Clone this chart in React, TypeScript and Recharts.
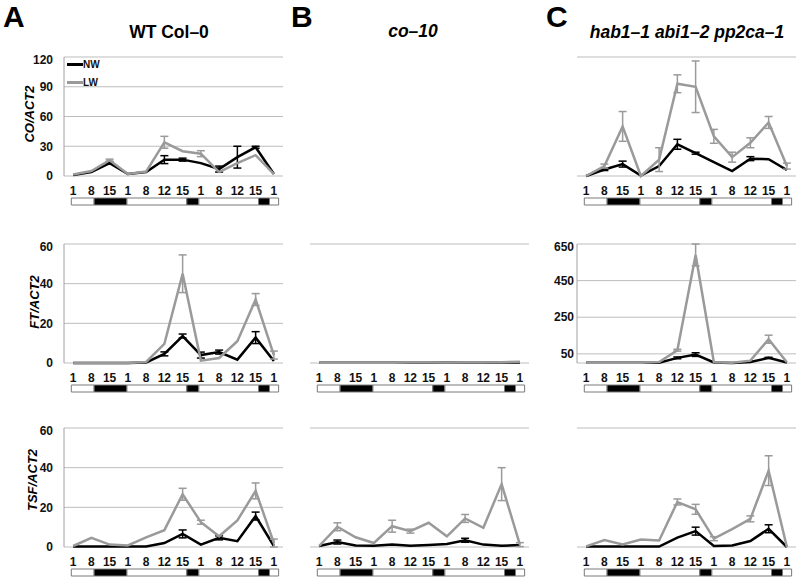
import {
  LineChart,
  Line,
  XAxis,
  YAxis,
  CartesianGrid,
  ErrorBar,
  Legend,
  BarChart,
  Bar,
} from "recharts";

const FONT = '"Liberation Sans", Arial, sans-serif';
const PW = 219;
const PH = 119;

const xLabels = ["1", "8", "15", "1", "8", "12", "15", "1", "8", "12", "15", "1"];
const idx = xLabels.map((_, i) => i);
const bounds = [-0.5, ...idx.map((i) => i + 0.5)];
const seriesOrder = ["NW", "LW"];

// light / dark bar: offset, then white/black segments (category units)
const dnSegments = [0.4, 1.25, 1.8, 3.28, 0.66, 3.27, 0.6, 0.5];
const dnFills = ["none", "#fff", "#000", "#fff", "#000", "#fff", "#000", "#fff"];

// CO/ACT2
const coWtNW = [1, 4, 13, 2, 4, 16.5, 16.5, 13, 7, 19, 29, 2];
const coWtNWErr = [0, 0, 1, 0, 0, 4, 1.5, 0, 3, 11, 1, 0];
const coWtLW = [1.5, 5, 16, 2, 4.5, 34, 25, 22.5, 4, 13, 21, 2];
const coWtLWErr = [0, 0, 1, 0, 0, 6, 0, 3, 0, 0, 0, 0];

const coPpNW = [0, 6.5, 12, 0.5, 10, 32, 23, 14, 5, 17.5, 17, 6];
const coPpNWErr = [0, 1, 3, 0, 0, 5, 1, 0, 0, 2, 0, 0];
const coPpLW = [0, 10, 50, 0, 16.5, 93, 90, 40, 19, 33.5, 54, 10];
const coPpLWErr = [0, 2, 15, 0, 12, 9, 26, 7, 5, 5, 6, 3];

// FT/ACT2
const ftWtNW = [0, 0, 0, 0, 0.3, 4.6, 13.6, 4, 5.5, 1.7, 12.8, 1];
const ftWtNWErr = [0, 0, 0, 0, 0, 1, 1, 1.5, 1, 0, 3, 0];
const ftWtLW = [0, 0, 0, 0, 0.5, 9.7, 45, 1.2, 2.5, 11, 32, 4];
const ftWtLWErr = [0, 0, 0, 0, 0, 0, 9.5, 0, 0, 0, 3, 2];

const ftCoNW = [0.1, 0.1, 0.1, 0.1, 0.1, 0.1, 0.1, 0.2, 0.1, 0.1, 0.2, 0.2];
const ftCoLW = [0.1, 0.1, 0.1, 0.1, 0.1, 0.2, 0.2, 0.3, 0.2, 0.2, 0.4, 0.6];
const zeroErr = [0, 0, 0, 0, 0, 0, 0, 0, 0, 0, 0, 0];

const ftPpNW = [1, 1, 1, 1, 2, 28, 46, 3, 0, 5, 28, 3];
const ftPpNWErr = [0, 0, 0, 0, 0, 5, 10, 0, 0, 0, 3, 0];
const ftPpLW = [2, 2, 2, 2, 5, 70, 590, 4, 2, 13, 130, 4];
const ftPpLWErr = [0, 0, 0, 0, 0, 5, 60, 0, 0, 0, 22, 0];

// TSF/ACT2
const tsfWtNW = [0.3, 0.3, 0.2, 0.2, 0.3, 2, 6.6, 1.2, 4.6, 2.9, 15.6, 0.5];
const tsfWtNWErr = [0, 0, 0, 0, 0, 0, 2, 0, 1, 0, 2, 0];
const tsfWtLW = [0.5, 4.6, 1.2, 0.8, 4.9, 8.5, 26.6, 12.5, 5.4, 13.4, 28.3, 2];
const tsfWtLWErr = [0, 0, 0, 0, 0, 0, 3, 1, 0, 0, 4, 2];

const tsfCoNW = [0.5, 2.5, 0.8, 0.6, 1.2, 0.6, 1, 1.5, 3.4, 1.2, 0.6, 1];
const tsfCoNWErr = [0, 1, 0, 0, 0, 0, 0, 0, 1, 0, 0, 0];
const tsfCoLW = [0.5, 10.2, 4.9, 2, 10.5, 8, 12.2, 5.4, 14.4, 9.7, 31.7, 1.2];
const tsfCoLWErr = [0, 2, 0, 0, 3, 1, 0, 0, 2, 0, 8.3, 1];

const tsfPpNW = [0.2, 0.2, 0.2, 0.2, 0.2, 4.7, 8, 0.5, 0.8, 3, 9.2, 0];
const tsfPpNWErr = [0, 0, 0, 0, 0, 0, 2, 0, 0, 0, 2, 0];
const tsfPpLW = [0.3, 3.5, 1.3, 3.8, 3.3, 22.7, 19, 4.2, 9, 14.2, 38.5, 0];
const tsfPpLWErr = [0, 0, 0, 0, 0, 1.5, 2.5, 1, 0, 1.5, 7.5, 0];

const coTicks = [0, 30, 60, 90, 120];
const ftTicks = [0, 20, 40, 60];
const ftPpTicks = [50, 250, 450, 650];
const tsfTicks = [0, 20, 40, 60];

const colLeft = [64, 310, 577];
const rowTop = [57, 244, 428];

const tickStyle = { fontSize: 12, fontWeight: 700, fill: "#111", fontFamily: FONT };

function DayNight({ left, top }: { left: number; top: number }) {
  const row: any = { name: "ld" };
  dnSegments.forEach((v, i) => (row["s" + i] = v));
  return (
    <div style={{ position: "absolute", left, top }}>
      <BarChart
        width={PW}
        height={9}
        data={[row]}
        layout="vertical"
        margin={{ top: 1, right: 0, left: 0, bottom: 1 }}
        barCategoryGap={0}
      >
        <XAxis type="number" domain={[0, 12]} hide />
        <YAxis type="category" dataKey="name" hide />
        {dnSegments.map((_, i) => (
          <Bar
            key={i}
            dataKey={"s" + i}
            stackId="a"
            fill={dnFills[i]}
            stroke={i === 0 ? "none" : "#7a7a7a"}
            strokeWidth={1}
            isAnimationActive={false}
          />
        ))}
      </BarChart>
    </div>
  );
}

interface PanelProps {
  col: number;
  row: number;
  nw: number[];
  nwErr: number[];
  lw: number[];
  lwErr: number[];
  domain: number[];
  ticks: number[];
  yW?: number;
  showTicks?: boolean;
  leftLine?: boolean;
  tickGap?: number;
  legend?: boolean;
}

function Panel({
  col,
  row,
  nw,
  nwErr,
  lw,
  lwErr,
  domain,
  ticks,
  yW = 0,
  showTicks = false,
  leftLine = false,
  tickGap = 11,
  legend = false,
}: PanelProps) {
  const data = idx.map((i) => ({
    i,
    nw: nw[i],
    nwErr: nwErr[i],
    lw: lw[i],
    lwErr: lwErr[i],
  }));
  const left = colLeft[col];
  const top = rowTop[row];
  return (
    <>
      <div style={{ position: "absolute", left: left - yW, top: top - 5 }}>
        <LineChart
          width={yW + PW + 2}
          height={5 + PH + 25}
          data={data}
          margin={{ top: 5, right: 2, left: 0, bottom: 0 }}
        >
          <CartesianGrid vertical={false} stroke="#bdbdbd" />
          <XAxis
            xAxisId="b"
            dataKey="i"
            type="number"
            domain={[-0.5, 11.5]}
            ticks={bounds}
            tickFormatter={() => ""}
            height={0}
            tickSize={4}
            stroke="#a0a0a0"
          />
          <XAxis
            dataKey="i"
            type="number"
            domain={[-0.5, 11.5]}
            ticks={idx}
            interval={0}
            tickFormatter={(v) => xLabels[v]}
            axisLine={false}
            tickLine={false}
            tickSize={0}
            tickMargin={10}
            height={25}
            tick={tickStyle}
          />
          <YAxis
            domain={domain}
            ticks={ticks}
            width={yW}
            tick={showTicks ? tickStyle : false}
            tickLine={false}
            tickSize={0}
            tickMargin={tickGap}
            axisLine={leftLine ? { stroke: "#a0a0a0" } : false}
          />
          {legend && (
            <Legend
              layout="vertical"
              align="center"
              verticalAlign="middle"
              wrapperStyle={{ left: 67, top: 3, width: 40, height: 36 }}
              content={({ payload }: any) => {
                const items = [...(payload || [])].sort(
                  (a: any, b: any) => seriesOrder.indexOf(a.value) - seriesOrder.indexOf(b.value)
                );
                return (
                  <div>
                    {items.map((p: any) => (
                      <div
                        key={p.value}
                        style={{ display: "flex", alignItems: "center", height: 18 }}
                      >
                        <span
                          style={{
                            width: 16,
                            height: 3,
                            background: p.color,
                            display: "inline-block",
                          }}
                        />
                        <span
                          style={{
                            fontFamily: FONT,
                            fontWeight: 700,
                            fontSize: 10,
                            color: "#111",
                          }}
                        >
                          {p.value}
                        </span>
                      </div>
                    ))}
                  </div>
                );
              }}
            />
          )}
          <Line
            dataKey="nw"
            name="NW"
            stroke="#000"
            strokeWidth={2.5}
            dot={false}
            isAnimationActive={false}
          >
            <ErrorBar dataKey="nwErr" width={4} stroke="#000" strokeWidth={1.5} />
          </Line>
          <Line
            dataKey="lw"
            name="LW"
            stroke="#9a9a9a"
            strokeWidth={2.5}
            dot={false}
            isAnimationActive={false}
          >
            <ErrorBar dataKey="lwErr" width={4} stroke="#9a9a9a" strokeWidth={1.5} />
          </Line>
        </LineChart>
      </div>
      <DayNight left={left} top={top + PH + 21} />
    </>
  );
}

const letterStyle = {
  position: "absolute" as const,
  fontFamily: FONT,
  fontWeight: 700,
  fontSize: 30,
  lineHeight: "30px",
  color: "#000",
};

const titleStyle = {
  position: "absolute" as const,
  fontFamily: FONT,
  fontWeight: 700,
  fontSize: 17.5,
  color: "#000",
  transform: "translate(-50%, -50%)",
  whiteSpace: "nowrap" as const,
};

function YLabel({ x, y, text }: { x: number; y: number; text: string }) {
  return (
    <div
      style={{
        position: "absolute",
        left: x,
        top: y,
        transform: "translate(-50%, -50%) rotate(-90deg)",
        fontFamily: FONT,
        fontWeight: 700,
        fontStyle: "italic",
        fontSize: 13,
        whiteSpace: "nowrap",
        color: "#000",
      }}
    >
      {text}
    </div>
  );
}

export default function App() {
  return (
    <div
      style={{
        position: "absolute",
        left: 0,
        top: 0,
        width: 800,
        height: 578,
        background: "#fff",
        overflow: "hidden",
      }}
    >
      <div style={{ ...letterStyle, left: 3, top: 2 }}>A</div>
      <div style={{ ...letterStyle, left: 291, top: 2 }}>B</div>
      <div style={{ ...letterStyle, left: 546, top: 2 }}>C</div>
      <div style={{ ...titleStyle, left: 169, top: 32 }}>WT Col–0</div>
      <div style={{ ...titleStyle, left: 413, top: 31, fontStyle: "italic" }}>co–10</div>
      <div style={{ ...titleStyle, left: 687, top: 32, fontStyle: "italic" }}>
        hab1–1 abi1–2 pp2ca–1
      </div>

      <YLabel x={29} y={114} text="CO/ACT2" />
      <YLabel x={34} y={302} text="FT/ACT2" />
      <YLabel x={32} y={480} text="TSF/ACT2" />

      <Panel col={0} row={0} nw={coWtNW} nwErr={coWtNWErr} lw={coWtLW} lwErr={coWtLWErr}
        domain={[0, 120]} ticks={coTicks} yW={64} showTicks leftLine legend />
      <Panel col={2} row={0} nw={coPpNW} nwErr={coPpNWErr} lw={coPpLW} lwErr={coPpLWErr}
        domain={[0, 120]} ticks={coTicks} />

      <Panel col={0} row={1} nw={ftWtNW} nwErr={ftWtNWErr} lw={ftWtLW} lwErr={ftWtLWErr}
        domain={[0, 60]} ticks={ftTicks} yW={64} showTicks leftLine />
      <Panel col={1} row={1} nw={ftCoNW} nwErr={zeroErr} lw={ftCoLW} lwErr={zeroErr}
        domain={[0, 60]} ticks={ftTicks} />
      <Panel col={2} row={1} nw={ftPpNW} nwErr={ftPpNWErr} lw={ftPpLW} lwErr={ftPpLWErr}
        domain={[0, 650]} ticks={ftPpTicks} yW={40} showTicks leftLine tickGap={3} />

      <Panel col={0} row={2} nw={tsfWtNW} nwErr={tsfWtNWErr} lw={tsfWtLW} lwErr={tsfWtLWErr}
        domain={[0, 60]} ticks={tsfTicks} yW={64} showTicks leftLine />
      <Panel col={1} row={2} nw={tsfCoNW} nwErr={tsfCoNWErr} lw={tsfCoLW} lwErr={tsfCoLWErr}
        domain={[0, 60]} ticks={tsfTicks} />
      <Panel col={2} row={2} nw={tsfPpNW} nwErr={tsfPpNWErr} lw={tsfPpLW} lwErr={tsfPpLWErr}
        domain={[0, 60]} ticks={tsfTicks} />
    </div>
  );
}
